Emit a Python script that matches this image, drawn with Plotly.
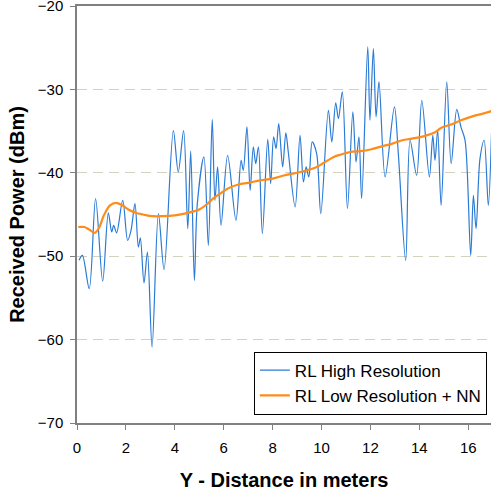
import plotly.graph_objects as go

# High resolution ray-launching trace (peaks/troughs)
hi_x = [0.08, 0.22, 0.50, 0.76, 1.05, 1.28, 1.42, 1.50, 1.62, 1.87, 2.07, 2.21, 2.37, 2.51, 2.59,
        2.74, 2.88, 3.07, 3.33, 3.56, 3.94, 4.14, 4.36, 4.53, 4.65, 4.80, 4.92, 5.19, 5.37, 5.53,
        5.64, 5.75, 5.89, 6.16, 6.50, 6.71, 6.80, 6.95, 7.08, 7.21, 7.31, 7.42, 7.58, 7.80, 7.92,
        8.04, 8.14, 8.25, 8.41, 8.54, 8.64, 8.92, 9.12, 9.26, 9.37, 9.48, 9.62, 9.80, 9.97, 10.28,
        10.42, 10.58, 10.69, 10.85, 11.06, 11.28, 11.41, 11.53, 11.64, 11.89, 11.98, 12.12, 12.23,
        12.35, 12.60, 12.98, 13.14, 13.44, 13.62, 13.89, 14.10, 14.41, 14.55, 14.64, 14.75, 14.89,
        15.12, 15.30, 15.53, 15.70, 15.87, 16.10, 16.21, 16.32, 16.48, 16.65, 16.82, 16.95]
hi_y = [-50.5, -49.9, -53.9, -43.1, -53.0, -44.8, -47.1, -46.3, -47.2, -43.3, -48.1, -46.9, -43.7,
        -48.9, -47.8, -53.2, -49.5, -60.9, -44.9, -51.6, -34.95, -39.9, -34.95, -46.7, -37.4, -52.9,
        -43.7, -38.1, -48.7, -33.6, -43.3, -39.3, -46.3, -37.9, -45.7, -38.5, -39.7, -34.5, -42.1,
        -36.9, -38.9, -36.9, -47.3, -36.0, -41.3, -35.7, -37.1, -34.1, -39.3, -35.2, -37.5, -44.1,
        -35.5, -41.1, -39.3, -40.5, -36.3, -37.7, -44.9, -32.5, -36.3, -31.6, -33.5, -30.3, -44.3,
        -32.7, -38.7, -35.7, -43.1, -24.9, -33.7, -25.1, -33.3, -29.1, -40.5, -32.1, -37.7, -50.5,
        -36.1, -40.3, -31.3, -40.5, -35.5, -38.5, -34.9, -43.9, -29.1, -38.9, -32.4, -34.5, -36.1,
        -49.9, -42.7, -46.7, -38.3, -36.1, -43.9, -35.3]

# Low resolution + neural network trace
lo_x = [0.05, 0.3, 0.5, 0.72, 0.9, 1.1, 1.35, 1.6, 1.85, 2.1, 2.4, 2.7, 3.1, 3.5, 4.0, 4.4, 4.8,
        5.0, 5.3, 5.6, 5.9, 6.15, 6.6, 7.0, 7.5, 8.0, 8.5, 9.0, 9.4, 9.8, 10.1, 10.5, 10.8, 11.2,
        11.6, 12.0, 12.5, 12.9, 13.3, 13.7, 14.2, 14.6, 14.9, 15.3, 15.7, 16.2, 16.6, 16.95]
lo_y = [-46.5, -46.5, -46.8, -47.2, -46.6, -45.1, -43.9, -43.6, -43.9, -44.4, -44.8, -45.0, -45.2,
        -45.2, -45.1, -44.9, -44.6, -44.4, -43.8, -43.0, -42.4, -41.9, -41.4, -41.2, -40.9, -40.7,
        -40.3, -40.0, -39.7, -39.3, -38.8, -38.1, -37.8, -37.5, -37.4, -37.2, -36.8, -36.5, -36.1,
        -35.9, -35.6, -35.2, -34.6, -34.2, -33.7, -33.2, -32.9, -32.6]

x_ticks = [0, 2, 4, 6, 8, 10, 12, 14, 16]
y_ticks = [-70, -60, -50, -40, -30, -20]

fig = go.Figure()
fig.add_trace(go.Scatter(x=hi_x, y=hi_y, mode="lines", name="RL High Resolution",
                         line=dict(color="#2b7bd6", width=1.2, shape="spline", smoothing=0.9)))
fig.add_trace(go.Scatter(x=lo_x, y=lo_y, mode="lines", name="RL Low Resolution + NN",
                         line=dict(color="#ff8c1a", width=2.2, shape="spline", smoothing=1.0)))

font_family = "Arial, Liberation Sans, sans-serif"
fig.update_layout(
    width=491, height=496,
    margin=dict(l=77, r=0, t=6, b=73, autoexpand=False),
    paper_bgcolor="white", plot_bgcolor="white",
    font=dict(family=font_family, color="black", size=15),
    showlegend=True,
    legend=dict(x=0.99, y=0.02, xanchor="right", yanchor="bottom",
                bordercolor="black", borderwidth=1, bgcolor="white",
                font=dict(size=17, family=font_family), tracegroupgap=0),
    xaxis=dict(range=[0, 16.93], tickvals=x_ticks, ticks="outside", ticklen=5, tickcolor="#808080",
               showline=True, linecolor="#808080", linewidth=1.5, mirror=True, showgrid=False,
               zeroline=False, tickfont=dict(size=15), automargin=False,
               ticklabeloverflow="allow", ticklabelstandoff=5,
               title=dict(text="<b>Y - Distance in meters</b>", font=dict(size=20), standoff=18)),
    yaxis=dict(range=[-70, -20], tickvals=y_ticks, ticks="outside", ticklen=5, tickcolor="#808080",
               showline=True, linecolor="#808080", linewidth=1.5, showgrid=True,
               gridcolor="#d2d2bf", griddash="10px,6px", gridwidth=1, zeroline=False,
               tickfont=dict(size=15), ticklabelstandoff=4, automargin=False,
               ticklabeloverflow="allow",
               title=dict(text="<b>Received Power (dBm)</b>", font=dict(size=20), standoff=8)),
)

fig.write_html("out.html", config={"displayModeBar": False},
               post_script="document.body.style.margin='0px';")
